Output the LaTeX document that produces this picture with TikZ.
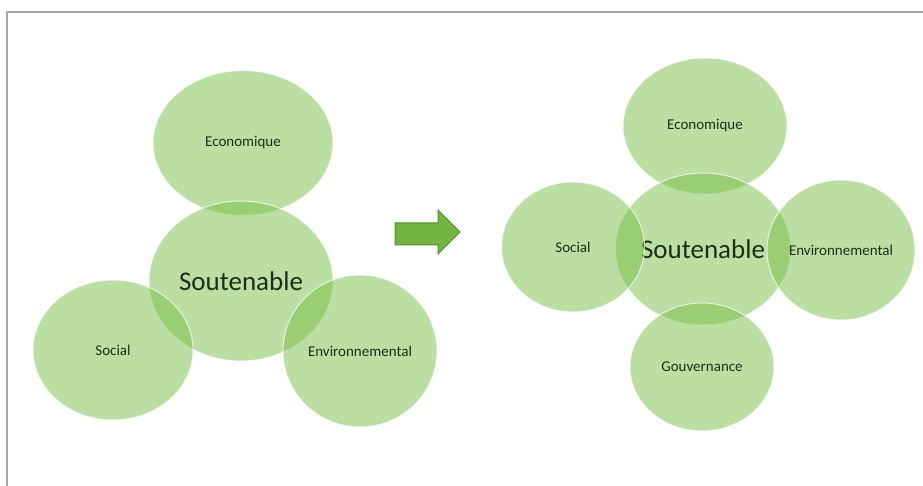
\documentclass[tikz,border=0pt]{standalone}
\usepackage{fontspec}
\setmainfont{Carlito}
\usetikzlibrary{shapes.geometric}

\definecolor{leaf}{RGB}{120,190,70}
\definecolor{leafdark}{RGB}{84,140,52}
\definecolor{arrowgreen}{RGB}{112,182,62}
\definecolor{inktext}{RGB}{30,45,24}

\begin{document}
\begin{tikzpicture}[x=1pt,y=-1pt]
  \tikzset{pillar/.style={ellipse,fill=leaf,fill opacity=0.5,draw=white,draw opacity=0.7,
      line width=1pt,text=inktext,text opacity=1,inner sep=0pt,font=\fontsize{15}{18}\selectfont},
    core/.style={pillar,font=\fontsize{27}{32}\selectfont}}
  \useasboundingbox (0,0) rectangle (923,486);
  \draw[gray!70,line width=1.5pt] (7,486) -- (7,12) -- (923,12);
  % before
  \node[pillar,minimum width=180,minimum height=145] (eco1) at (243,143) {Economique};
  \node[core,minimum width=184,minimum height=160]   (sou1) at (241,281) {Soutenable};
  \node[pillar,minimum width=160,minimum height=140] (soc1) at (113,350) {Social};
  \node[pillar,minimum width=154,minimum height=152] (env1) at (360,351) {Environnemental};
  % arrow
  \draw[fill=arrowgreen,draw=leafdark,line width=1pt]
    (395,223) -- (438,223) -- (438,210) -- (460,232) -- (438,254) -- (438,245) -- (395,245) -- cycle;
  % after
  \node[pillar,minimum width=164,minimum height=136] (eco2) at (705,126) {Economique};
  \node[core,minimum width=163,minimum height=152]   (sou2) at (703,249) {Soutenable};
  \node[pillar,minimum width=143,minimum height=130] (soc2) at (573,247) {Social};
  \node[pillar,minimum width=148,minimum height=140] (env2) at (841,250) {Environnemental};
  \node[pillar,minimum width=144,minimum height=128] (gov2) at (702,367) {Gouvernance};
\end{tikzpicture}
\end{document}
